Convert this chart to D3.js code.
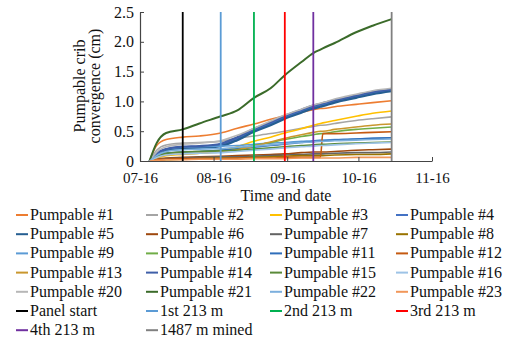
<!DOCTYPE html>
<html>
<head>
<meta charset="utf-8">
<script src="https://cdn.jsdelivr.net/npm/d3@7"></script>
<style>
  body { margin: 0; background: #fff; }
  svg { display: block; }
  svg text { font-family: "Liberation Serif", "DejaVu Serif", "Noto Serif", "Times New Roman", serif; }
</style>
</head>
<body>
<svg id="chart" width="510" height="342"></svg>
<script>
// reading dates (2016), shared by every pumpable series
const readDates = ['07-20', '07-23', '07-27', '08-03', '08-10', '08-19', '08-26', '09-02',
    '09-09', '09-15', '09-22', '09-27', '09-30', '10-01', '10-06', '10-15', '10-22', '10-30'];

const seriesNames = ['Pumpable #1', 'Pumpable #2', 'Pumpable #3', 'Pumpable #4', 'Pumpable #5',
    'Pumpable #6', 'Pumpable #7', 'Pumpable #8', 'Pumpable #9', 'Pumpable #10', 'Pumpable #11',
    'Pumpable #12', 'Pumpable #13', 'Pumpable #14', 'Pumpable #15', 'Pumpable #16',
    'Pumpable #20', 'Pumpable #21', 'Pumpable #22', 'Pumpable #23'];

const seriesColors = ['#ED7D31', '#A5A5A5', '#FFC000', '#4472C4', '#255E91', '#9E480E',
    '#636363', '#997300', '#5B9BD5', '#70AD47', '#2F6EBA', '#C55A11', '#C9972E', '#3F5FA8',
    '#5A8A39', '#9DC3E6', '#B7B7B7', '#3B6B2A', '#7CAFDD', '#F1975A'];

// convergence in cm, one row per series, columns follow readDates
const seriesValues = [
    [0, 0.26, 0.36, 0.40, 0.42, 0.47, 0.55, 0.62, 0.70, 0.76, 0.82, 0.86, 0.88, 0.88, 0.91, 0.95, 0.98, 1.01],
    [0, 0.18, 0.27, 0.30, 0.31, 0.33, 0.38, 0.42, 0.46, 0.50, 0.55, 0.58, 0.60, 0.60, 0.63, 0.68, 0.71, 0.74],
    [0, 0.05, 0.09, 0.11, 0.13, 0.17, 0.24, 0.33, 0.40, 0.47, 0.54, 0.60, 0.63, 0.64, 0.68, 0.75, 0.80, 0.84],
    [0, 0.12, 0.19, 0.23, 0.24, 0.27, 0.38, 0.52, 0.63, 0.74, 0.84, 0.91, 0.94, 0.95, 1.00, 1.08, 1.14, 1.19],
    [0, 0.10, 0.17, 0.21, 0.22, 0.25, 0.35, 0.49, 0.60, 0.71, 0.81, 0.88, 0.91, 0.92, 0.98, 1.06, 1.12, 1.17],
    [0, 0.03, 0.05, 0.06, 0.07, 0.08, 0.09, 0.10, 0.11, 0.12, 0.14, 0.15, 0.15, 0.15, 0.16, 0.18, 0.19, 0.20],
    [0, 0.02, 0.04, 0.05, 0.06, 0.07, 0.07, 0.08, 0.09, 0.10, 0.11, 0.12, 0.12, 0.12, 0.13, 0.14, 0.14, 0.15],
    [0, 0.01, 0.02, 0.03, 0.04, 0.05, 0.05, 0.06, 0.07, 0.08, 0.09, 0.09, 0.09, 0.09, 0.10, 0.11, 0.11, 0.12],
    [0, 0.10, 0.20, 0.23, 0.24, 0.25, 0.26, 0.28, 0.30, 0.31, 0.33, 0.34, 0.35, 0.35, 0.36, 0.37, 0.38, 0.39],
    [0, 0.08, 0.13, 0.15, 0.16, 0.18, 0.21, 0.26, 0.31, 0.36, 0.41, 0.44, 0.46, 0.46, 0.49, 0.53, 0.55, 0.57],
    [0, 0.08, 0.13, 0.15, 0.16, 0.18, 0.20, 0.23, 0.26, 0.28, 0.31, 0.33, 0.34, 0.34, 0.35, 0.37, 0.38, 0.39],
    [0, 0.02, 0.03, 0.04, 0.04, 0.04, 0.05, 0.05, 0.05, 0.06, 0.06, 0.06, 0.06, 0.46, 0.46, 0.47, 0.48, 0.49],
    [0, 0.06, 0.10, 0.12, 0.13, 0.15, 0.19, 0.25, 0.32, 0.38, 0.44, 0.48, 0.50, 0.50, 0.53, 0.57, 0.60, 0.62],
    [0, 0.13, 0.20, 0.24, 0.25, 0.29, 0.40, 0.54, 0.65, 0.76, 0.86, 0.93, 0.96, 0.97, 1.02, 1.10, 1.16, 1.20],
    [0, 0.07, 0.13, 0.15, 0.16, 0.17, 0.18, 0.20, 0.22, 0.24, 0.26, 0.27, 0.28, 0.28, 0.29, 0.30, 0.31, 0.32],
    [0, 0.06, 0.10, 0.12, 0.13, 0.14, 0.16, 0.18, 0.20, 0.22, 0.24, 0.25, 0.26, 0.26, 0.27, 0.29, 0.30, 0.31],
    [0, 0.15, 0.24, 0.28, 0.30, 0.34, 0.43, 0.55, 0.67, 0.77, 0.87, 0.94, 0.97, 0.98, 1.04, 1.12, 1.18, 1.22],
    [0, 0.30, 0.47, 0.53, 0.63, 0.75, 0.85, 1.06, 1.22, 1.44, 1.66, 1.81, 1.87, 1.89, 1.98, 2.16, 2.27, 2.38],
    [0, 0.09, 0.16, 0.19, 0.20, 0.21, 0.23, 0.25, 0.27, 0.29, 0.31, 0.32, 0.33, 0.33, 0.34, 0.35, 0.36, 0.37],
    [0, 0.01, 0.02, 0.02, 0.03, 0.03, 0.03, 0.04, 0.04, 0.04, 0.05, 0.05, 0.05, 0.05, 0.05, 0.06, 0.06, 0.06]
];

// mining events drawn as vertical lines
const eventNames = ['Panel start', '1st 213 m', '2nd 213 m', '3rd 213 m', '4th 213 m', '1487 m mined'];
const eventDates = ['08-03', '08-19', '09-02', '09-15', '09-27', '10-30'];
const eventColors = ['#000000', '#5B9BD5', '#00B050', '#FF0000', '#7030A0', '#808080'];

const xTickDates = ['07-16', '08-16', '09-16', '10-16', '11-16'];
const yTicks = [0, 0.5, 1.0, 1.5, 2.0, 2.5];

const parseDate = d3.timeParse('%Y-%m-%d');
const toDate = s => parseDate('2016-' + s);

const svg = d3.select('#chart');
const plotLeft = 140, plotRight = 432, plotTop = 12, plotBottom = 161;
const serif = '"Liberation Serif", "DejaVu Serif", "Noto Serif", serif';

const xScale = d3.scaleTime()
    .domain([toDate(xTickDates[0]), toDate(xTickDates[xTickDates.length - 1])])
    .range([plotLeft, plotRight]);

const yScale = d3.scaleLinear()
    .domain([0, 2.5])
    .range([plotBottom, plotTop]);

const line = d3.line()
    .curve(d3.curveMonotoneX)
    .x(d => xScale(d[0]))
    .y(d => yScale(d[1]));

// series
const series = seriesNames.map((name, i) => ({
    name: name,
    color: seriesColors[i],
    points: readDates.map((s, j) => [toDate(s), seriesValues[i][j]])
}));

const thick = {'Pumpable #4': 2.6, 'Pumpable #5': 2.2, 'Pumpable #14': 2.2, 'Pumpable #21': 2};

svg.append('g')
    .selectAll('path')
    .data(series)
    .enter()
    .append('path')
    .attr('d', d => line(d.points))
    .attr('fill', 'none')
    .attr('stroke', d => d.color)
    .attr('stroke-width', d => thick[d.name] || 1.6);

// event lines
svg.append('g')
    .selectAll('line')
    .data(eventDates)
    .enter()
    .append('line')
    .attr('x1', d => xScale(toDate(d)))
    .attr('x2', d => xScale(toDate(d)))
    .attr('y1', yScale(0))
    .attr('y2', yScale(2.5))
    .attr('stroke', (_, i) => eventColors[i])
    .attr('stroke-width', 1.8);

// axes
const xAxis = d3.axisBottom(xScale)
    .tickValues(xTickDates.map(toDate))
    .tickFormat(d3.timeFormat('%m-%d'))
    .tickSizeInner(-4)
    .tickSizeOuter(0)
    .tickPadding(11.5);

const yAxis = d3.axisLeft(yScale)
    .tickValues(yTicks)
    .tickFormat(d => d === 0 ? '0' : d.toFixed(1))
    .tickSizeInner(-4)
    .tickSizeOuter(0)
    .tickPadding(6);

const xAxisG = svg.append('g').attr('transform', `translate(0, ${plotBottom})`).call(xAxis);
const yAxisG = svg.append('g').attr('transform', `translate(${plotLeft}, 0)`).call(yAxis);

[xAxisG, yAxisG].forEach(g => {
    g.attr('font-family', serif);
    g.select('.domain').attr('stroke', '#444').attr('stroke-width', 1.2);
    g.selectAll('.tick line').attr('stroke', '#444');
    g.selectAll('text').attr('fill', '#111');
});
xAxisG.selectAll('text').attr('font-size', 15);
yAxisG.selectAll('text').attr('font-size', 16);

svg.append('text')
    .attr('transform', 'translate(80, 86) rotate(-90)')
    .attr('text-anchor', 'middle')
    .attr('font-size', 16)
    .attr('fill', '#111')
    .selectAll('tspan')
    .data(['Pumpable crib', 'convergence (cm)'])
    .enter()
    .append('tspan')
    .attr('x', 0)
    .attr('y', (_, i) => 5 + i * 15)
    .text(d => d);

svg.append('text')
    .attr('x', 286)
    .attr('y', 201)
    .attr('text-anchor', 'middle')
    .attr('font-size', 16)
    .attr('fill', '#111')
    .text('Time and date');

// legend
const legendItems = series.map(s => ({name: s.name, color: s.color}))
    .concat(eventNames.map((n, i) => ({name: n, color: eventColors[i]})));
const colX = [30, 160, 284, 410];

const legend = svg.append('g')
    .selectAll('g')
    .data(legendItems)
    .enter()
    .append('g')
    .attr('transform', (_, i) => `translate(${colX[i % 4]}, ${215 + Math.floor(i / 4) * 19.2})`);

legend.append('line')
    .attr('x1', -14).attr('x2', -2)
    .attr('y1', 0).attr('y2', 0)
    .attr('stroke', d => d.color)
    .attr('stroke-width', 2);

legend.append('text')
    .attr('x', 0)
    .attr('y', 5)
    .attr('font-size', 16)
    .attr('fill', '#111')
    .text(d => d.name);
</script>
</body>
</html>
